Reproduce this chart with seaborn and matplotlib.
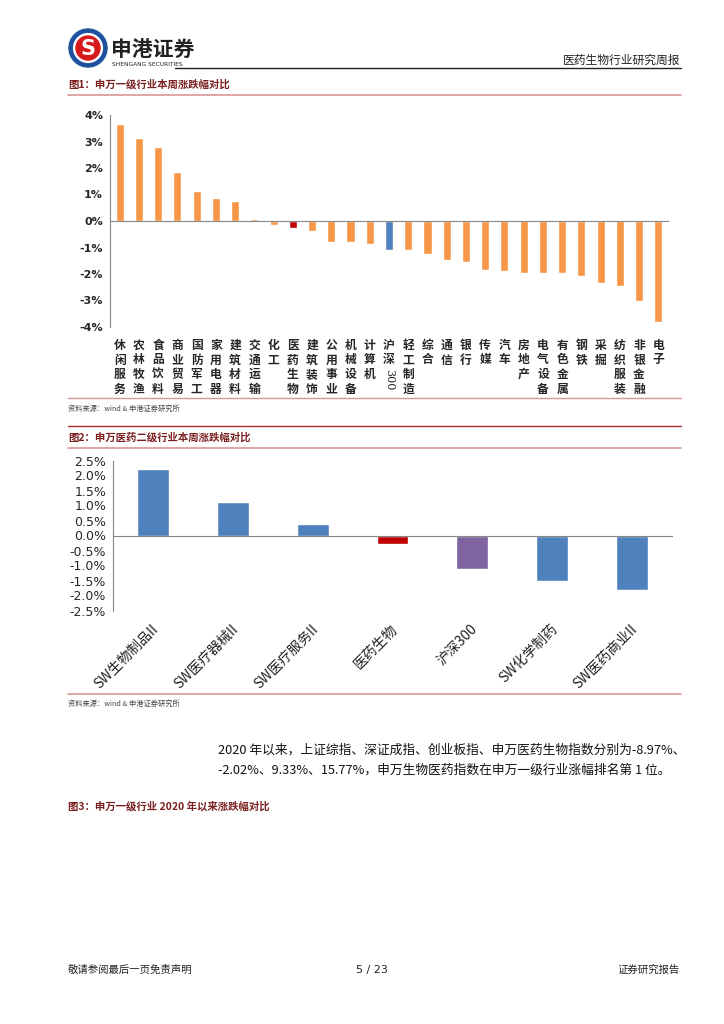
import numpy as np
import pandas as pd
import matplotlib
matplotlib.use("Agg")
import matplotlib.pyplot as plt
import matplotlib.patches as mpatches
import seaborn as sns

sns.set_style("white")
plt.rcParams['font.family'] = ['Noto Sans CJK SC', 'DejaVu Sans']

# Chart 1 data: SW level-1 industries, weekly change (%)
ind1 = ['休闲服务', '农林牧渔', '食品饮料', '商业贸易', '国防军工', '家用电器', '建筑材料',
        '交通运输', '化工', '医药生物', '建筑装饰', '公用事业', '机械设备', '计算机',
        '沪深300', '轻工制造', '综合', '通信', '银行', '传媒', '汽车', '房地产',
        '电气设备', '有色金属', '钢铁', '采掘', '纺织服装', '非银金融', '电子']
chg1 = [3.66, 3.15, 2.81, 1.84, 1.15, 0.85, 0.74, 0.06, -0.14, -0.25, -0.36, -0.78,
        -0.80, -0.88, -1.09, -1.10, -1.23, -1.46, -1.54, -1.84, -1.88, -1.95, -1.95,
        -1.98, -2.09, -2.33, -2.44, -3.01, -3.80]

# Chart 2 data: SW pharma level-2 industries, weekly change (%)
ind2 = ['SW生物制品II', 'SW医疗器械II', 'SW医疗服务II', '医药生物', '沪深300',
        'SW化学制药', 'SW医药商业II']
chg2 = [2.22, 1.13, 0.38, -0.28, -1.10, -1.52, -1.83]

ORANGE = '#F79646'
RED = '#C00000'
BLUE = '#4F81BD'
PURPLE = '#8064A2'
TITLE_RED = '#7B2020'
AXIS_GREY = '#868686'

W, H = 724, 1024
fig = plt.figure(figsize=(W / 100, H / 100), dpi=100)
fig.patch.set_facecolor('white')


def fx(x):
    return x / W


def fy(y):
    return 1 - y / H


def hline(y, x0, x1, color, lw):
    fig.add_artist(plt.Line2D([fx(x0), fx(x1)], [fy(y), fy(y)], color=color, lw=lw))


# ---- page header ----
logo = fig.add_axes([fx(68), fy(68), fx(40), 40 / H])
logo.set_xlim(-1, 1)
logo.set_ylim(-1, 1)
logo.set_aspect('equal')
logo.axis('off')
logo.add_patch(mpatches.Circle((0, 0), 0.95, color='#1E4FA0'))
logo.add_patch(mpatches.Circle((0, 0), 0.72, color='white'))
logo.add_patch(mpatches.Circle((0, 0), 0.6, color='#D7191C'))
logo.text(0, -0.05, 'S', color='white', fontsize=15, fontweight='bold',
          ha='center', va='center', family='DejaVu Sans')

fig.text(fx(111), fy(50), '申港证券', fontsize=15, fontweight='bold', color='#222222',
         va='center', ha='left')
fig.text(fx(112), fy(64), 'SHENGANG SECURITIES', fontsize=4.2, color='#222222',
         va='center', ha='left', family='DejaVu Sans')
fig.text(fx(680), fy(60), '医药生物行业研究周报', fontsize=8.5, color='#222222',
         va='center', ha='right')
hline(68, 175, 681, '#222222', 1.0)

# ---- figure 1 title ----
fig.text(fx(68), fy(84), '图1：申万一级行业本周涨跌幅对比', fontsize=7.5, fontweight='bold',
         color=TITLE_RED, va='center')
hline(95, 68, 681, '#D99694', 1.2)

# ---- chart 1 ----
ax1 = fig.add_axes([fx(110), fy(327), fx(668 - 110), (327 - 115) / H])
colors1 = [RED if c == '医药生物' else BLUE if c == '沪深300' else ORANGE for c in ind1]
df1 = pd.DataFrame({'ind': ind1, 'chg': chg1})
sns.barplot(data=df1, x='ind', y='chg', hue='ind', palette=colors1, legend=False,
            width=0.42, ax=ax1, saturation=1)
ax1.set_xlim(-0.5, len(ind1) - 0.5)
ax1.set_ylim(-4, 4)
ax1.set_yticks(np.arange(-4, 5, 1))
ax1.set_yticklabels([f'{v}%' for v in range(-4, 5)], fontsize=8, fontweight='bold',
                    family='DejaVu Sans')
ax1.set_xlabel('')
ax1.set_ylabel('')
ax1.set_xticks([])
ax1.set_xticks(np.arange(len(ind1)) + 0.5, minor=True)
ax1.tick_params(axis='x', which='minor', length=3, color=AXIS_GREY, direction='out')
ax1.tick_params(axis='y', length=3, color=AXIS_GREY, direction='out', pad=2)
for s in ['top', 'right']:
    ax1.spines[s].set_visible(False)
ax1.spines['bottom'].set_position(('data', 0))
ax1.spines['bottom'].set_color(AXIS_GREY)
ax1.spines['left'].set_color(AXIS_GREY)
ax1.patch.set_alpha(0)

tr1 = matplotlib.transforms.blended_transform_factory(ax1.transData, fig.transFigure)
for i, name in enumerate(ind1):
    if name == '沪深300':
        ax1.text(i, fy(339), '沪\n深', transform=tr1, ha='center', va='top',
                 fontsize=8.5, fontweight='bold', linespacing=1.15)
        ax1.text(i, fy(369), '300', transform=tr1, ha='center', va='top',
                 fontsize=8, rotation=270, family='DejaVu Serif')
    else:
        ax1.text(i, fy(339), '\n'.join(name), transform=tr1, ha='center', va='top',
                 fontsize=8.5, fontweight='bold', linespacing=1.15)

hline(398, 68, 681, '#D99694', 1.0)
fig.text(fx(68), fy(409), '资料来源：wind & 申港证券研究所', fontsize=5.2, style='italic',
         color='#444444', va='center')

# ---- figure 2 title ----
hline(426, 68, 681, '#A0302C', 1.0)
fig.text(fx(68), fy(437), '图2：申万医药二级行业本周涨跌幅对比', fontsize=7.5, fontweight='bold',
         color=TITLE_RED, va='center')
hline(448, 68, 681, '#D99694', 1.2)

# ---- chart 2 ----
ax2 = fig.add_axes([fx(113), fy(610.5), fx(672 - 113), (610.5 - 460.5) / H])
colors2 = [RED if c == '医药生物' else PURPLE if c == '沪深300' else BLUE for c in ind2]
df2 = pd.DataFrame({'ind': ind2, 'chg': chg2})
sns.barplot(data=df2, x='ind', y='chg', hue='ind', palette=colors2, legend=False,
            width=0.4, ax=ax2, saturation=1)
ax2.set_xlim(-0.5, len(ind2) - 0.5)
ax2.set_ylim(-2.5, 2.5)
yt2 = np.arange(-2.5, 2.51, 0.5)
ax2.set_yticks(yt2)
ax2.set_yticklabels([f'{v:.1f}%' for v in yt2], fontsize=9, family='DejaVu Sans')
ax2.set_xlabel('')
ax2.set_ylabel('')
ax2.set_xticks([])
ax2.set_xticks(np.arange(len(ind2)) + 0.5, minor=True)
ax2.tick_params(axis='x', which='minor', length=4, color=AXIS_GREY, direction='out')
ax2.tick_params(axis='y', length=3, color=AXIS_GREY, direction='out', pad=2)
for s in ['top', 'right']:
    ax2.spines[s].set_visible(False)
ax2.spines['bottom'].set_position(('data', 0))
ax2.spines['bottom'].set_color(AXIS_GREY)
ax2.spines['left'].set_color(AXIS_GREY)
ax2.patch.set_alpha(0)

tr2 = matplotlib.transforms.blended_transform_factory(ax2.transData, fig.transFigure)
for i, name in enumerate(ind2):
    ax2.text(i - 0.02, fy(622), name, transform=tr2, ha='right', va='top', rotation=45,
             rotation_mode='anchor', fontsize=10, color='#222222')

hline(694, 68, 681, '#D99694', 1.2)
fig.text(fx(68), fy(704), '资料来源：wind & 申港证券研究所', fontsize=5.2, style='italic',
         color='#444444', va='center')

# ---- paragraph ----
fig.text(fx(218), fy(750), '2020 年以来，上证综指、深证成指、创业板指、申万医药生物指数分别为-8.97%、',
         fontsize=9.2, color='#111111', va='center')
fig.text(fx(218), fy(770), '-2.02%、9.33%、15.77%，申万生物医药指数在申万一级行业涨幅排名第 1 位。',
         fontsize=9.2, color='#111111', va='center')

fig.text(fx(68), fy(806), '图3：申万一级行业 2020 年以来涨跌幅对比', fontsize=7.5, fontweight='bold',
         color=TITLE_RED, va='center')

# ---- footer ----
fig.text(fx(68), fy(970), '敬请参阅最后一页免责声明', fontsize=7.5, color='#222222', va='center')
fig.text(fx(372), fy(970), '5 / 23', fontsize=8, color='#222222', va='center', ha='center',
         family='DejaVu Sans')
fig.text(fx(680), fy(970), '证券研究报告', fontsize=7.5, color='#222222', va='center', ha='right')

fig.savefig('out.png', dpi=100)
